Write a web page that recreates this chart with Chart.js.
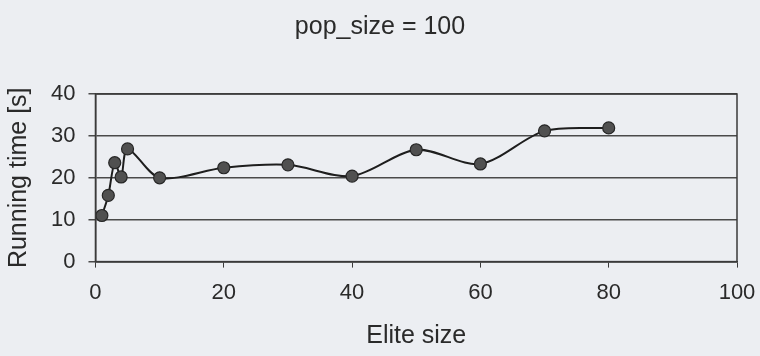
<!DOCTYPE html>
<html>
<head>
<meta charset="utf-8">
<script src="https://cdn.jsdelivr.net/npm/chart.js@4"></script>
<style>
    html, body { margin: 0; padding: 0; background: #eceef2; }
    #wrap { width: 760px; height: 356px; }
</style>
</head>
<body>
<div id="wrap"><canvas id="chart" width="760" height="356"></canvas></div>
<script>
const chartTitle = 'pop_size = 100';
const eliteSize = [1, 2, 3, 4, 5, 10, 20, 30, 40, 50, 60, 70, 80];
const runningTime = [11, 15.8, 23.6, 20.2, 26.9, 20, 22.4, 23.1, 20.4, 26.7, 23.3, 31.2, 31.9];
const xTicks = [0, 20, 40, 60, 80, 100];
const yTicks = [0, 10, 20, 30, 40];

const family = '"Liberation Sans", Arial, sans-serif';
const tickFont = { family, size: 22, weight: 'normal' };
const titleFont = { family, size: 25, weight: 'normal' };
const ink = '#2a2a2a';

// frame around the plot area + title centred on the whole page
const frame = {
    id: 'frame',
    afterDatasetsDraw(chart) {
        const { ctx, chartArea: a } = chart;
        ctx.save();
        ctx.strokeStyle = '#3a3a3a';
        ctx.lineWidth = 1.5;
        ctx.strokeRect(a.left, a.top, a.right - a.left, a.bottom - a.top);
        ctx.fillStyle = ink;
        ctx.font = `${titleFont.size}px ${family}`;
        ctx.textAlign = 'center';
        ctx.textBaseline = 'alphabetic';
        ctx.fillText(chartTitle, chart.width / 2, 34);
        ctx.restore();
    }
};

new Chart(document.getElementById('chart'), {
    type: 'line',
    data: {
        datasets: [{
            data: eliteSize.map((x, i) => ({ x, y: runningTime[i] })),
            borderColor: '#1e1e1e',
            borderWidth: 2,
            tension: 0.3,
            pointRadius: 6,
            pointBackgroundColor: '#505050',
            pointBorderColor: '#262626',
            pointBorderWidth: 1.2
        }]
    },
    options: {
        responsive: false,
        animation: false,
        layout: { padding: { left: 4, right: 23, top: 94, bottom: 5 } },
        plugins: {
            legend: { display: false },
            tooltip: { enabled: false },
            title: { display: false }
        },
        scales: {
            x: {
                type: 'linear',
                min: 0,
                max: 100,
                afterBuildTicks: s => { s.ticks = xTicks.map(v => ({ value: v })); },
                afterFit: s => { s.paddingLeft = 0; s.paddingRight = 0; },
                grid: { drawOnChartArea: false, drawTicks: true, tickLength: 6, color: '#3a3a3a' },
                border: { color: '#3a3a3a', width: 1.5 },
                ticks: { color: ink, font: tickFont, padding: 12, maxRotation: 0 },
                title: { display: true, text: 'Elite size', color: ink, font: titleFont, padding: { top: 3, bottom: 0 } }
            },
            y: {
                min: 0,
                max: 40,
                afterBuildTicks: s => { s.ticks = yTicks.map(v => ({ value: v })); },
                afterFit: s => { s.paddingTop = 0; s.paddingBottom = 0; },
                grid: { drawTicks: true, tickLength: 7, color: '#4a4a4a', lineWidth: 1.5 },
                border: { color: '#3a3a3a', width: 1.5 },
                ticks: { color: ink, font: tickFont, padding: 13 },
                title: { display: true, text: 'Running time [s]', color: ink, font: titleFont, padding: { top: 0, bottom: 4 } }
            }
        }
    },
    plugins: [frame]
});
</script>
</body>
</html>
